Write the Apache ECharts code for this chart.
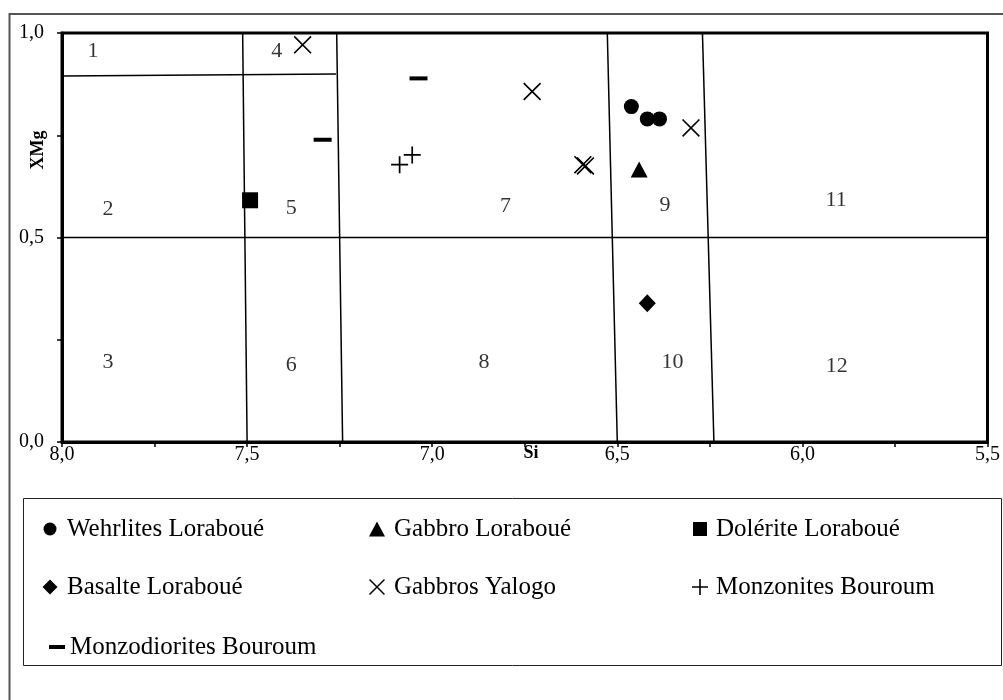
<!DOCTYPE html>
<html><head><meta charset="utf-8">
<script src="https://cdn.jsdelivr.net/npm/echarts@6/dist/echarts.min.js"></script>
<style>html,body{margin:0;padding:0;background:#fff}#c{width:1003px;height:700px}</style>
</head><body><div id="c"></div>
<script>
// ---------- data ----------
const seriesNames = ['Wehrlites Loraboué','Gabbro Loraboué','Dolérite Loraboué','Basalte Loraboué','Gabbros Yalogo','Monzonites Bouroum','Monzodiorites Bouroum'];
const wehrlites     = [[6.462,0.820],[6.419,0.790],[6.386,0.790]];
const gabbroLor     = [[6.441,0.666]];
const dolerite      = [[7.492,0.591]];
const basalte       = [[6.419,0.339]];
const gabbrosYalogo = [[7.350,0.971],[6.730,0.857],[6.593,0.678],[6.586,0.675],[6.301,0.768]];
const monzonites    = [[7.088,0.678],[7.054,0.702]];
const monzodiorites = [[7.037,0.889],[7.296,0.739]];
// field boundaries (Si, XMg)
const boundaries = [
  [[7.512,1],[7.5,0]],
  [[7.258,1],[7.242,0]],
  [[6.527,1],[6.5,0]],
  [[6.270,1],[6.239,0]],
  [[8,0.5],[5.5,0.5]],
  [[8,0.895],[7.26,0.9]]
];
// field numbers and their positions
const fieldNames = ['1','2','3','4','5','6','7','8','9','10','11','12'];
const fieldPos = [[7.916,0.955],[7.876,0.570],[7.876,0.196],[7.420,0.955],[7.381,0.572],[7.381,0.188],
                  [6.802,0.576],[6.860,0.196],[6.371,0.580],[6.351,0.196],[5.909,0.592],[5.907,0.186]];
const xLabels = ['8,0','7,5','7,0','6,5','6,0','5,5'];
const yLabels = ['0,0','0,5','1,0'];

// ---------- chart ----------
const FONT = 'Liberation Serif';
const X_PATH = 'path://M0,1.3L1.3,0L20,18.7L18.7,20Z M18.7,0L20,1.3L1.3,20L0,18.7Z';
const PLUS_PATH = 'path://M9,0H11V9H20V11H11V20H9V11H0V9H9Z';
const fmt = v => {
  const r = Math.round(v*2);
  if (Math.abs(v*2 - r) > 1e-6) return '';
  return v.toFixed(1).replace('.', ',');
};
const black = '#000';
const mk = (name, data, symbol, size) => ({
  name, type:'scatter', data, symbol, symbolSize:size, z:5,
  itemStyle:{color:black, opacity:1}, emphasis:{disabled:true}
});
const series = [];
boundaries.forEach(b => series.push({
  type:'line', data:b, symbol:'none', silent:true, z:2,
  lineStyle:{color:black, width:1.5}, animation:false
}));
series.push(mk(seriesNames[0], wehrlites, 'circle', 15));
series.push(mk(seriesNames[1], gabbroLor, 'triangle', [17,16]));
series.push(mk(seriesNames[2], dolerite, 'rect', 16));
series.push(mk(seriesNames[3], basalte, 'diamond', [17,18]));
series.push(mk(seriesNames[4], gabbrosYalogo, X_PATH, 18));
series.push(mk(seriesNames[5], monzonites, PLUS_PATH, 17));
series.push(mk(seriesNames[6], monzodiorites, 'rect', [18,4]));
series.push({
  type:'scatter', silent:true, symbolSize:1, z:3,
  itemStyle:{color:'rgba(0,0,0,0)'},
  data: fieldNames.map((n,i)=>({name:n, value:fieldPos[i]})),
  label:{show:true, position:'inside', formatter:p=>p.name, color:black, fontFamily:FONT, fontSize:22}
});

const LEG_FS = 25;
// c = icon centre x, t = text start x, y = row centre
const legendDefs = [
  {i:0, c:50,  t:67,  y:527, w:13, h:13},
  {i:1, c:377, t:394, y:527, w:16, h:15},
  {i:2, c:700, t:716, y:527, w:14, h:14},
  {i:3, c:50,  t:67,  y:585, w:15, h:15},
  {i:4, c:377, t:394, y:585, w:16, h:16},
  {i:5, c:700, t:716, y:585, w:16, h:16},
  {i:6, c:57,  t:68,  y:645, w:16, h:4, icon:'rect'}
];
const legends = legendDefs.map(d => {
  const left = d.c - d.w/2;
  const pad = Math.max(0, d.t - (left + d.w + 5));
  const l = {data:[seriesNames[d.i]], left, top:d.y + 2 - LEG_FS/2, itemWidth:d.w, itemHeight:d.h,
    padding:0, itemGap:0, selectedMode:false,
    textStyle:{fontFamily:FONT, fontSize:LEG_FS, color:black, padding:[0,0,0,pad]}};
  if (d.icon) l.icon = d.icon;
  return l;
});

const option = {
  animation:false,
  backgroundColor:'#fff',
  grid:{left:62, right:13, top:33, bottom:258, show:true, borderColor:black, borderWidth:3, backgroundColor:'transparent'},
  xAxis:{type:'value', min:5.5, max:8, interval:0.25, inverse:true,
    axisLine:{show:true, onZero:false, lineStyle:{color:black, width:3}},
    axisTick:{show:true, length:5, lineStyle:{color:black, width:1.5}},
    splitLine:{show:false},
    axisLabel:{formatter:fmt, color:black, fontFamily:FONT, fontSize:20, margin:3}},
  yAxis:{type:'value', min:0, max:1, interval:0.25,
    axisLine:{show:true, onZero:false, lineStyle:{color:black, width:3}},
    axisTick:{show:true, length:5, lineStyle:{color:black, width:1.5}},
    splitLine:{show:false},
    axisLabel:{formatter:fmt, color:black, fontFamily:FONT, fontSize:20, margin:18}},
  legend:legends,
  series,
  graphic:[
    {type:'rect', silent:true, z:-1, shape:{x:9.5, y:14, width:1010, height:710}, style:{fill:'none', stroke:'#555', lineWidth:2}},
    {type:'rect', silent:true, z:-1, shape:{x:23.5, y:498.5, width:978, height:167}, style:{fill:'none', stroke:'#222', lineWidth:1}},
    {type:'text', silent:true, x:38, y:150, rotation:Math.PI/2, style:{text:'XMg', font:'bold 18px "Liberation Serif"', fill:black, align:'center', verticalAlign:'middle'}},
    {type:'text', silent:true, x:531, y:453, style:{text:'Si', font:'bold 18px "Liberation Serif"', fill:black, align:'center', verticalAlign:'middle'}}
  ]
};
const chart = echarts.init(document.getElementById('c'), null, {renderer:'canvas'});
chart.setOption(option);
</script></body></html>
